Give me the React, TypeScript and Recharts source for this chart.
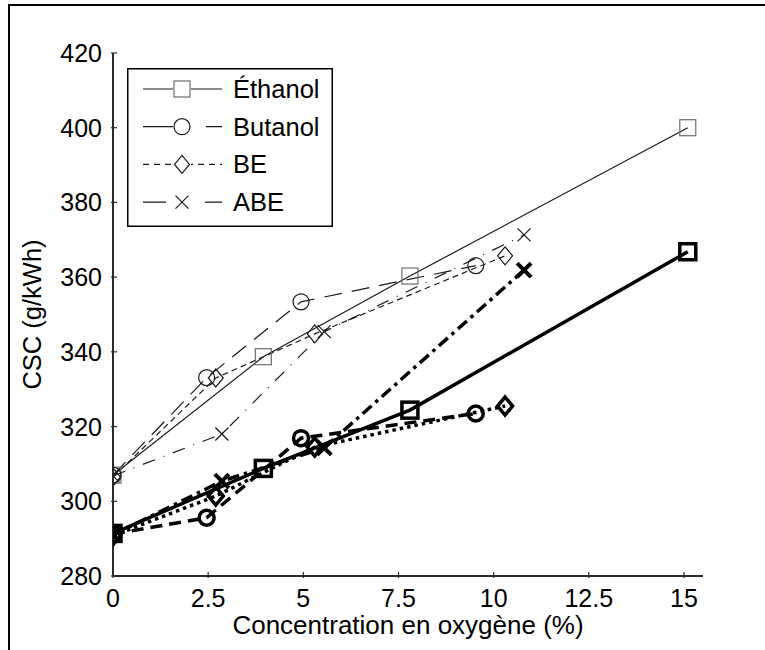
import React from 'react';
import { LineChart, Line, XAxis, YAxis, Legend } from 'recharts';

// x positions (oxygen %) per fuel, thin = first set, thick = second set
const ethanolX = [0, 3.95, 7.8, 15.1];
const ethanolThin = [307, 338.7, 360.3, 400];
const ethanolThick = [291.4, 308.8, 324.4, 366.8];

const butanolX = [0, 2.46, 4.94, 9.53];
const butanolThin = [307, 333.1, 353.4, 363.1];
const butanolThick = [291.2, 295.6, 316.9, 323.5];

const beX = [0, 2.7, 5.3, 10.3];
const beThin = [306.5, 333, 344.8, 365.7];
const beThick = [290.8, 301.4, 314.5, 325.5];

const abeX = [0, 2.86, 5.55, 10.8];
const abeThin = [306.8, 318, 345.4, 371.3];
const abeThick = [291, 305.4, 314.3, 361.9];

const xTicks = [0, 2.5, 5, 7.5, 10, 12.5, 15];
const yTicks = [280, 300, 320, 340, 360, 380, 400, 420];
const seriesNames = ['Éthanol', 'Butanol', 'BE', 'ABE'];

const FONT = '"Liberation Sans", Arial, sans-serif';
const AXIS = '#2a2a2a';
const THIN = '#1a1a1a';
const GRAY = '#6e6e6e';

type Shape = 'square' | 'circle' | 'diamond' | 'cross';

const toPoints = (xs: number[], ys: number[]) => xs.map((x, i) => ({ x, y: ys[i] }));

const Marker = ({ shape, cx, cy, thick, color }: { shape: Shape; cx: number; cy: number; thick: boolean; color: string }) => {
  const sw = thick ? 3.5 : 1.2;
  if (shape === 'square') {
    const s = 8;
    return <rect x={cx - s} y={cy - s} width={2 * s} height={2 * s} fill="none" stroke={color} strokeWidth={sw} />;
  }
  if (shape === 'circle') {
    return <circle cx={cx} cy={cy} r={thick ? 7.5 : 8} fill="none" stroke={color} strokeWidth={sw} />;
  }
  if (shape === 'diamond') {
    return (
      <polygon
        points={`${cx},${cy - 9} ${cx + 7.5},${cy} ${cx},${cy + 9} ${cx - 7.5},${cy}`}
        fill="none"
        stroke={color}
        strokeWidth={sw}
      />
    );
  }
  const c = thick ? 7 : 6.5;
  return (
    <path
      d={`M${cx - c},${cy - c}L${cx + c},${cy + c}M${cx - c},${cy + c}L${cx + c},${cy - c}`}
      stroke={color}
      strokeWidth={thick ? 4 : 1.2}
      fill="none"
    />
  );
};

const dotFor = (id: string, shape: Shape, thick: boolean, color: string) => (p: any) => (
  <Marker key={`${id}-${p.index}`} shape={shape} cx={p.cx} cy={p.cy} thick={thick} color={color} />
);

const BottomTick = (p: any) => (
  <g>
    <line x1={p.x} x2={p.x} y1={p.y} y2={p.y - 6} stroke={AXIS} strokeWidth={1.2} />
    <text x={p.x} y={p.y + 29} textAnchor="middle" fontSize={25} fontFamily={FONT} fill="#000">
      {p.payload.value}
    </text>
  </g>
);

const TopTick = (p: any) => <line x1={p.x} x2={p.x} y1={p.y} y2={p.y + 6} stroke={AXIS} strokeWidth={1.2} />;

const LeftTick = (p: any) => (
  <g>
    <line x1={p.x} x2={p.x + 6} y1={p.y} y2={p.y} stroke={AXIS} strokeWidth={1.2} />
    <text x={p.x - 9} y={p.y} textAnchor="end" dominantBaseline="central" fontSize={25} fontFamily={FONT} fill="#000">
      {p.payload.value}
    </text>
  </g>
);

const RightTick = (p: any) => <line x1={p.x} x2={p.x - 6} y1={p.y} y2={p.y} stroke={AXIS} strokeWidth={1.2} />;

const legendRows: { shape: Shape; color: string; dash?: string }[] = [
  { shape: 'square', color: GRAY },
  { shape: 'circle', color: THIN, dash: '31 32' },
  { shape: 'diamond', color: THIN, dash: '6 5' },
  { shape: 'cross', color: THIN, dash: '23 39' },
];

const LegendBox = () => (
  <svg width={206} height={159} style={{ display: 'block' }}>
    <rect x={0.75} y={0.75} width={204.5} height={157.5} fill="#fff" stroke="#000" strokeWidth={1.5} />
    {legendRows.map((r, i) => {
      const cy = 21 + i * 37.7;
      return (
        <g key={seriesNames[i]}>
          <line x1={16} x2={95} y1={cy} y2={cy} stroke={THIN} strokeWidth={1.2} strokeDasharray={r.dash} />
          {r.shape !== 'cross' && <rect x={46} y={cy - 9} width={18} height={18} fill="#fff" />}
          <Marker shape={r.shape} cx={55} cy={cy} thick={false} color={r.color} />
          <text x={106} y={cy} dominantBaseline="central" fontSize={25.5} fontFamily={FONT} fill="#000">
            {seriesNames[i]}
          </text>
        </g>
      );
    })}
  </svg>
);

const thinLines = [
  { id: 'eth-thin', pts: toPoints(ethanolX, ethanolThin), shape: 'square' as Shape, color: GRAY, dash: undefined },
  { id: 'but-thin', pts: toPoints(butanolX, butanolThin), shape: 'circle' as Shape, color: THIN, dash: '18 10' },
  { id: 'be-thin', pts: toPoints(beX, beThin), shape: 'diamond' as Shape, color: THIN, dash: '6 4' },
  { id: 'abe-thin', pts: toPoints(abeX, abeThin), shape: 'cross' as Shape, color: THIN, dash: '13 9 1 9' },
];

const thickLines = [
  { id: 'eth-thick', pts: toPoints(ethanolX, ethanolThick), shape: 'square' as Shape, dash: undefined },
  { id: 'but-thick', pts: toPoints(butanolX, butanolThick), shape: 'circle' as Shape, dash: '12 7' },
  { id: 'be-thick', pts: toPoints(beX, beThick), shape: 'diamond' as Shape, dash: '3.5 4' },
  { id: 'abe-thick', pts: toPoints(abeX, abeThick), shape: 'cross' as Shape, dash: '12 5 3.5 5' },
];

export default function App() {
  return (
    <div style={{ position: 'absolute', left: 0, top: 0, width: 765, height: 650, background: '#fff', overflow: 'hidden' }}>
      <div
        style={{
          position: 'absolute',
          left: 8,
          top: 4,
          width: 800,
          height: 700,
          borderTop: '2.5px solid #000',
          borderLeft: '2.5px solid #000',
        }}
      />
      <div style={{ position: 'absolute', left: 0, top: 0 }}>
        <LineChart width={765} height={650} margin={{ top: 53, right: 62, left: 0, bottom: 0 }}>
          <XAxis
            type="number"
            dataKey="x"
            domain={[0, 15.5]}
            ticks={xTicks}
            interval={0}
            allowDataOverflow
            height={74}
            tickSize={0}
            tickLine={false}
            axisLine={{ stroke: AXIS, strokeWidth: 2 }}
            tick={BottomTick}
            label={{
              content: (props: any) => {
                const vb = props.viewBox;
                return (
                  <text x={vb.x + vb.width / 2} y={vb.y + 58} textAnchor="middle" fontSize={26} fontFamily={FONT} fill="#000">
                    Concentration en oxygène (%)
                  </text>
                );
              },
            }}
          />
          <XAxis
            xAxisId="top"
            orientation="top"
            type="number"
            dataKey="x"
            domain={[0, 15.5]}
            ticks={xTicks}
            interval={0}
            allowDataOverflow
            height={0}
            tickSize={0}
            tickLine={false}
            axisLine={{ stroke: AXIS, strokeWidth: 2 }}
            tick={TopTick}
          />
          <YAxis
            type="number"
            domain={[280, 420]}
            ticks={yTicks}
            interval={0}
            allowDataOverflow
            width={113}
            tickSize={0}
            tickLine={false}
            axisLine={{ stroke: AXIS, strokeWidth: 2 }}
            tick={LeftTick}
            label={{
              content: (props: any) => {
                const vb = props.viewBox;
                const cy = vb.y + vb.height / 2;
                return (
                  <text
                    x={32}
                    y={cy}
                    transform={`rotate(-90, 32, ${cy})`}
                    textAnchor="middle"
                    dominantBaseline="central"
                    fontSize={25.5}
                    fontFamily={FONT}
                    fill="#000"
                  >
                    CSC (g/kWh)
                  </text>
                );
              },
            }}
          />
          <YAxis
            yAxisId="right"
            orientation="right"
            type="number"
            domain={[280, 420]}
            ticks={yTicks}
            interval={0}
            allowDataOverflow
            width={0}
            tickSize={0}
            tickLine={false}
            axisLine={{ stroke: AXIS, strokeWidth: 2 }}
            tick={RightTick}
          />
          <Legend
            layout="vertical"
            align="center"
            verticalAlign="middle"
            content={() => <LegendBox />}
            wrapperStyle={{ left: 127, top: 68, width: 206, height: 159 }}
          />
          {thinLines.map((l) => (
            <Line
              key={l.id}
              data={l.pts}
              dataKey="y"
              type="linear"
              stroke={THIN}
              strokeWidth={1.2}
              strokeDasharray={l.dash}
              dot={dotFor(l.id, l.shape, false, l.color)}
              activeDot={false}
              legendType="none"
              isAnimationActive={false}
            />
          ))}
          {thickLines.map((l) => (
            <Line
              key={l.id}
              data={l.pts}
              dataKey="y"
              type="linear"
              stroke="#000"
              strokeWidth={3.5}
              strokeDasharray={l.dash}
              dot={dotFor(l.id, l.shape, true, '#000')}
              activeDot={false}
              legendType="none"
              isAnimationActive={false}
            />
          ))}
        </LineChart>
      </div>
    </div>
  );
}
